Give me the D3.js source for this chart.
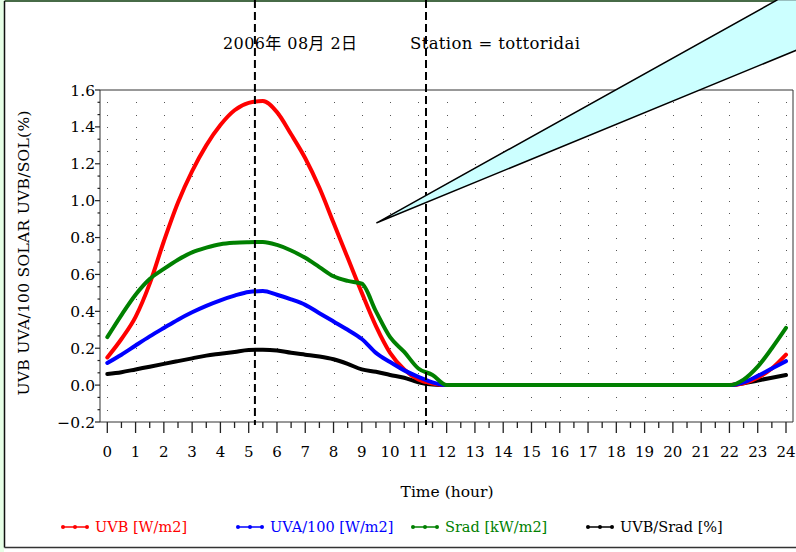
<!DOCTYPE html>
<html><head><meta charset="utf-8">
<script src="https://cdn.jsdelivr.net/npm/d3@7"></script>
<style>
html,body{margin:0;padding:0;background:#fff;}
svg text{font-family:"DejaVu Serif","Liberation Serif",serif;}
</style></head>
<body><svg id="c" width="796" height="552"></svg>
<script>
// ---- data ----
const hours = [0,0.5,1,1.5,2,2.5,3,3.5,4,4.5,5,5.5,6,6.5,7,7.5,8,8.5,9,9.5,10,10.5,11,11.5,
  12,12.5,13,13.5,14,14.5,15,15.5,16,16.5,17,17.5,18,18.5,19,19.5,20,20.5,21,21.5,22,22.5,23,23.5,24];
const uvb = [0.15,0.25,0.37,0.55,0.78,0.99,1.16,1.30,1.41,1.49,1.53,1.54,1.48,1.36,1.23,1.07,0.88,0.69,0.50,0.32,0.175,0.085,0.03,0.008,
  0,0,0,0,0,0,0,0,0,0,0,0,0,0,0,0,0,0,0,0,0, 0.01,0.04,0.09,0.165];
const uva100 = [0.12,0.165,0.215,0.264,0.31,0.355,0.395,0.43,0.46,0.485,0.505,0.51,0.49,0.465,0.435,0.39,0.345,0.30,0.25,0.175,0.125,0.08,0.045,0.015,
  0,0,0,0,0,0,0,0,0,0,0,0,0,0,0,0,0,0,0,0,0, 0.015,0.05,0.09,0.13];
const srad = [0.26,0.38,0.49,0.575,0.63,0.68,0.72,0.745,0.764,0.772,0.775,0.776,0.76,0.73,0.69,0.64,0.59,0.565,0.55,0.40,0.26,0.18,0.09,0.055,
  0,0,0,0,0,0,0,0,0,0,0,0,0,0,0,0,0,0,0,0,0, 0.03,0.10,0.20,0.31];
const ratio = [0.06,0.07,0.085,0.10,0.115,0.13,0.145,0.16,0.17,0.18,0.19,0.192,0.188,0.175,0.165,0.155,0.14,0.115,0.085,0.072,0.055,0.04,0.015,0.003,
  0,0,0,0,0,0,0,0,0,0,0,0,0,0,0,0,0,0,0,0,0, 0.01,0.025,0.04,0.055];
const seriesNames = ["UVB [W/m2]","UVA/100 [W/m2]","Srad [kW/m2]","UVB/Srad [%]"];
const seriesColors = ["#ff0000","#0000ff","#008000","#000000"];
const xTicks = [0,1,2,3,4,5,6,7,8,9,10,11,12,13,14,15,16,17,18,19,20,21,22,23,24];
const yTicks = [-0.2,0.0,0.2,0.4,0.6,0.8,1.0,1.2,1.4,1.6];
const markerHours = [5.22, 11.27];
const titleDate = "2006年 08月 2日";
const titleStation = "Station  =  tottoridai";
const yTitle = "UVB UVA/100 SOLAR UVB/SOL(%)";
const xTitle = "Time (hour)";
// annotation wedge (data units)
const wedge = [[9.53,0.88],[23.71,2.09],[24.4,2.09],[24.4,1.818]];

// ---- layout ----
const svg = d3.select("#c");
const L = 100, R = 793, T = 90, B = 422;
const x = d3.scaleLinear().domain([0,24]).range([107.3, 786]);
const y = d3.scaleLinear().domain([-0.2,1.6]).range([B, T]);

// frame
svg.append("rect").attr("x",0).attr("y",0).attr("width",4).attr("height",552).attr("fill","#e6ffe6");
svg.append("line").attr("x1",4.5).attr("x2",796).attr("y1",1).attr("y2",1).attr("stroke","#0a3a0a").attr("stroke-width",1.5);
svg.append("line").attr("x1",4.5).attr("x2",4.5).attr("y1",1).attr("y2",547.5).attr("stroke","#111").attr("stroke-width",1.5);
svg.append("line").attr("x1",4.5).attr("x2",796).attr("y1",547.5).attr("y2",547.5).attr("stroke","#333").attr("stroke-width",1.5);

// grid dots
const gx = d3.range(0,25,1);
const gy = d3.range(-0.2+0.2/3, 1.6-0.01, 0.2/3);
const dots = svg.append("g");
gy.forEach(v=>gx.forEach(h=>{
  dots.append("rect").attr("x",Math.round(x(h))).attr("y",Math.round(y(v))).attr("width",1).attr("height",1).attr("fill","#555");
}));

// plot box
svg.append("path").attr("d",`M${L},${B}V${T}H${R}V${B}Z`).attr("fill","none").attr("stroke","#333").attr("stroke-width",1);

// x axis ticks
const xa = svg.append("g");
d3.range(0,24.01,0.5).forEach(h=>{
  const major = Number.isInteger(h);
  xa.append("line").attr("x1",x(h)).attr("x2",x(h)).attr("y1",B).attr("y2",B+(major?11:6)).attr("stroke","#222").attr("stroke-width",1.3);
});
xTicks.forEach(h=>{
  xa.append("text").attr("x",x(h)).attr("y",457).attr("text-anchor","middle").attr("font-size",15).text(h);
});
// y axis ticks
const ya = svg.append("g");
d3.range(0,27.01,1).forEach(i=>{
  const v = -0.2 + i*0.2/3;
  const major = i%3===0;
  ya.append("line").attr("x1",L).attr("x2",L-(major?5:2.5)).attr("y1",y(v)).attr("y2",y(v)).attr("stroke","#222").attr("stroke-width",1.2);
});
yTicks.forEach(v=>{
  ya.append("text").attr("x",95).attr("y",y(v)+5.5).attr("text-anchor","end").attr("font-size",15.5)
    .text(v<0 ? "\u2212"+Math.abs(v).toFixed(1) : v.toFixed(1));
});

// titles
svg.append("text").attr("x",223).attr("y",49).attr("font-size",16).attr("textLength",134)
  .text(titleDate).style("font-family","'DejaVu Serif','Noto Sans CJK JP',serif");
svg.append("text").attr("x",410).attr("y",49).attr("font-size",16.5).attr("textLength",170).text(titleStation);
svg.append("text").attr("transform","translate(29,253) rotate(-90)").attr("text-anchor","middle").attr("font-size",15.5)
  .attr("textLength",285).text(yTitle);
svg.append("text").attr("x",447).attr("y",497).attr("text-anchor","middle").attr("font-size",15.5).text(xTitle);

// series
const allSeries = [uvb, uva100, srad, ratio];
const order = [3,0,1,2];
const line = d3.line().x(d=>x(d[0])).y(d=>y(d[1])).curve(d3.curveMonotoneX);
const lines = svg.append("g");
order.forEach(i=>{
  const pts = hours.map((h,k)=>[h, allSeries[i][k]]);
  lines.append("path").attr("d",line(pts)).attr("fill","none").attr("stroke",seriesColors[i])
    .attr("stroke-width",4).attr("stroke-linejoin","round").attr("stroke-linecap","round");
});

// dashed markers
markerHours.forEach(h=>{
  svg.append("line").attr("x1",x(h)).attr("x2",x(h)).attr("y1",0).attr("y2",425)
    .attr("stroke","#000").attr("stroke-width",2).attr("stroke-dasharray","8,4");
});

// wedge annotation
svg.append("path").attr("d", d3.line().x(d=>x(d[0])).y(d=>y(d[1]))(wedge)+"Z")
  .attr("fill","#ccffff").attr("stroke","#000").attr("stroke-width",1.5).attr("stroke-linejoin","round");

// legend
const legX = [63,238,413,588];
const lg = svg.append("g");
seriesNames.forEach((n,i)=>{
  const g = lg.append("g").attr("transform",`translate(${legX[i]},527)`);
  g.append("line").attr("x1",0).attr("x2",24).attr("y1",0).attr("y2",0).attr("stroke",seriesColors[i]).attr("stroke-width",1.5);
  [0,12,24].forEach(cx=>g.append("circle").attr("cx",cx).attr("cy",0).attr("r",2).attr("fill",seriesColors[i]));
  g.append("text").attr("x",32).attr("y",5).attr("font-size",14.5).attr("fill",seriesColors[i]).text(n);
});
</script>
</body></html>
